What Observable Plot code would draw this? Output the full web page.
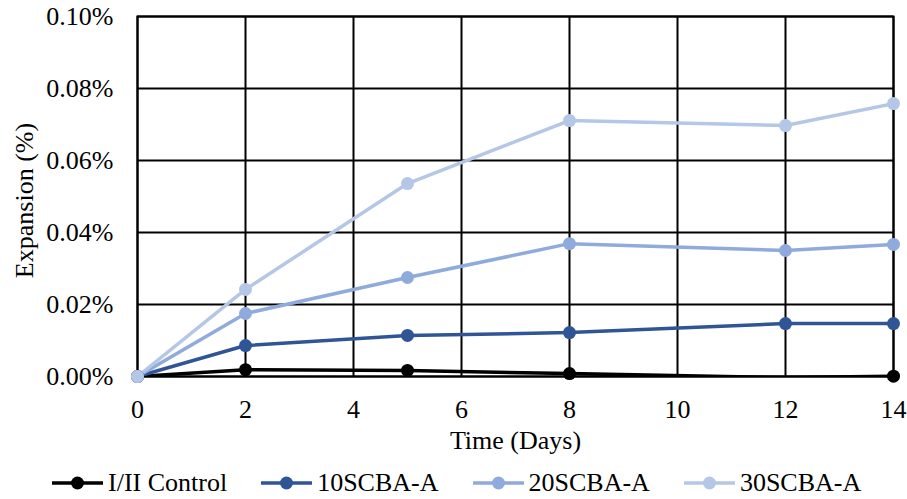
<!DOCTYPE html>
<html>
<head>
<meta charset="utf-8">
<script src="https://cdn.jsdelivr.net/npm/d3@7"></script>
<script src="https://cdn.jsdelivr.net/npm/@observablehq/plot@0.6"></script>
<style>
  body { margin: 0; background: #fff; font-family: "Liberation Serif", "Times New Roman", serif; }
  #chart { width: 907px; height: 462px; }
  #chart svg, #chart svg text { font-family: "Liberation Serif", "Times New Roman", serif !important; font-variant: normal !important; }
  .legend { display: flex; align-items: center; height: 42px; padding-left: 52px; font-size: 26px; color: #000; white-space: nowrap; }
  .legend .item { display: flex; align-items: center; margin-right: 34px; }
  .legend svg { margin-right: 5px; }
</style>
</head>
<body>
<div id="chart"></div>
<script>
const days = [0, 2, 5, 8, 12, 14];
const seriesNames = ["I/II Control", "10SCBA-A", "20SCBA-A", "30SCBA-A"];
const seriesColors = ["#000000", "#2F5597", "#8FAADC", "#B4C7E7"];
const control = [0, 0.0019, 0.0017, 0.0008, -0.0003, 0.0001];
const scba10 = [0, 0.0086, 0.0114, 0.0122, 0.0147, 0.0147];
const scba20 = [0, 0.0175, 0.0275, 0.0369, 0.0350, 0.0367];
const scba30 = [0, 0.0242, 0.0536, 0.0711, 0.0697, 0.0758];
const xTicks = [0, 2, 4, 6, 8, 10, 12, 14];
const yTicks = [0, 0.02, 0.04, 0.06, 0.08, 0.10];

const allValues = [control, scba10, scba20, scba30];
const data = [];
allValues.forEach((vals, si) => {
  vals.forEach((v, i) => data.push({series: seriesNames[si], day: days[i], value: v}));
});

const serif = "Liberation Serif";
const plot = Plot.plot({
  width: 907,
  height: 462,
  marginLeft: 137,
  marginRight: 14,
  marginTop: 16,
  marginBottom: 86,
  style: { fontFamily: serif, fontSize: "26px", background: "#fff", color: "#000" },
  x: { domain: [0, 14], ticks: xTicks, label: null },
  y: { domain: [0, 0.10], ticks: yTicks, label: null, tickFormat: d => d.toFixed(2) + "%" },
  color: { domain: seriesNames, range: seriesColors },
  marks: [
    Plot.gridX(xTicks, { stroke: "#000", strokeOpacity: 1, strokeWidth: 2 }),
    Plot.gridY(yTicks, { stroke: "#000", strokeOpacity: 1, strokeWidth: 2 }),
    Plot.frame({ stroke: "#000", strokeWidth: 2 }),
    Plot.axisX(xTicks, { tickSize: 0, tickPadding: 23, fontSize: 26, fontFamily: serif, fontVariant: "normal" }),
    Plot.axisY(yTicks, { tickSize: 0, tickPadding: 24, fontSize: 26, fontFamily: serif, fontVariant: "normal", tickFormat: d => d.toFixed(2) + "%" }),
    Plot.text(["Time (Days)"], { frameAnchor: "bottom", dy: 72, fontSize: 26, fontFamily: serif }),
    Plot.text(["Expansion (%)"], { frameAnchor: "left", textAnchor: "middle", dx: -113, dy: 4, rotate: -90, fontSize: 26, fontFamily: serif }),
    Plot.line(data, { x: "day", y: "value", z: "series", stroke: "series", strokeWidth: 3.5, clip: true }),
    Plot.dot(data, { x: "day", y: "value", fill: "series", r: 6.5, stroke: null, filter: d => d.value >= 0 })
  ]
});
document.getElementById("chart").appendChild(plot);
plot.querySelectorAll("text, g").forEach(el => {
  el.style.setProperty("font-family", "'Liberation Serif', 'Times New Roman', serif", "important");
  el.style.setProperty("font-variant", "normal", "important");
});

const legend = document.createElement("div");
legend.className = "legend";
seriesNames.forEach((name, i) => {
  const item = document.createElement("div");
  item.className = "item";
  item.innerHTML = `<svg width="51" height="16"><line x1="0" y1="8" x2="51" y2="8" stroke="${seriesColors[i]}" stroke-width="3.5"/><circle cx="25.5" cy="8" r="6.5" fill="${seriesColors[i]}"/></svg><span>${name}</span>`;
  legend.appendChild(item);
});
document.body.appendChild(legend);
</script>
</body>
</html>
